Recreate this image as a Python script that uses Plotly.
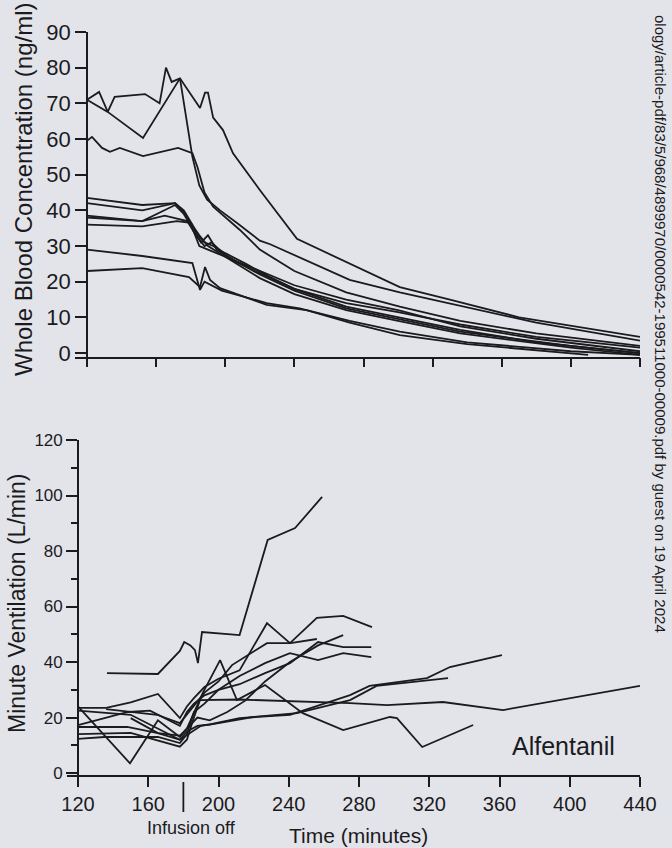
import plotly.graph_objects as go

# ---------------- Top panel: whole blood concentration (ng/ml) ----------------
conc_t_1 = [120, 132, 152.4, 173.8, 181, 185, 189.5, 197, 207, 220, 226, 272, 301, 324, 380, 440]
conc_v_1 = [71, 67.6, 60.3, 77, 55, 47, 43, 40, 36.4, 31.5, 30.5, 20.5, 17, 14.5, 8.5, 3.5]
conc_t_2 = [120, 127, 132, 136, 153.6, 162, 165.7, 169, 173.8, 185.4, 188.3, 190, 193, 198.7, 204.5, 212.6, 220, 241.5, 270, 301, 330, 370, 440]
conc_v_2 = [71, 73.2, 67.6, 71.8, 72.6, 70, 80, 76, 77, 68.7, 73, 73, 66, 62.5, 56, 50.5, 45.7, 32, 25.5, 18.5, 15, 10, 4.5]
conc_t_3 = [120, 122.9, 128.7, 133.3, 139, 152.4, 172.7, 181, 184, 188, 193, 200, 208.5, 220, 240, 270, 301, 336, 380, 440]
conc_v_3 = [59.5, 60.6, 57.5, 56.4, 57.5, 55.2, 57.5, 56, 52, 45, 41, 38, 34.5, 29, 23, 17, 13, 9, 5.5, 2]
conc_t_4 = [120, 152, 171, 176, 181, 184, 188, 193, 200, 212, 225, 240, 270, 300, 336, 380, 440]
conc_v_4 = [43.5, 41.5, 42, 40, 36, 33, 31, 30, 28, 25, 21.5, 18, 14, 11.5, 8, 4.5, 1.5]
conc_t_5 = [120, 152, 171, 177, 182, 186, 190, 195, 205, 220, 240, 270, 300, 336, 380, 440]
conc_v_5 = [42, 40, 42, 39, 34, 31, 33, 29, 26, 23, 19, 15, 12, 7.5, 4, 0.5]
conc_t_6 = [120, 152, 171, 176, 181, 185, 190, 200, 215, 240, 270, 300, 336, 380, 440]
conc_v_6 = [38.5, 37, 41.5, 39, 35, 30, 29, 27, 23.5, 18, 13, 10, 6.5, 3, 0]
conc_t_7 = [120, 152, 165, 178, 183, 188, 192, 200, 220, 240, 270, 300, 336, 400, 440]
conc_v_7 = [38, 37, 38.5, 37, 33, 30, 31, 27.5, 22, 17.5, 12.5, 9.5, 6, 2, 0]
conc_t_8 = [120, 152, 172, 180, 185, 190, 200, 220, 240, 270, 300, 336, 400, 440]
conc_v_8 = [36, 35.5, 37, 36.5, 33, 30, 27, 21, 16.5, 12, 9, 5.5, 1.5, -0.5]
conc_t_9 = [120, 152, 181, 185.4, 188, 192, 198, 224, 243, 272, 301, 340, 400, 440]
conc_v_9 = [29, 27.2, 25.2, 17.7, 20, 19, 17.5, 14, 12.5, 9, 6, 3, 0.5, -0.5]
conc_t_10 = [120, 152, 179, 185.4, 188.3, 191.2, 197, 224, 247, 272, 301, 340, 410]
conc_v_10 = [23, 23.8, 21.3, 18.5, 24.1, 20.5, 18.2, 13.5, 12, 8.5, 5, 2.5, -0.5]

conc_ticks = [0, 10, 20, 30, 40, 50, 60, 70, 80, 90]

# ---------------- Bottom panel: minute ventilation (L/min) ----------------
vent_t_1 = [136.5, 165.5, 178, 180.5, 184, 186.6, 188.3, 190.6, 212, 228, 243.6, 259]
vent_v_1 = [36, 35.7, 44, 47.2, 46, 44.3, 39.6, 50.8, 49.7, 84, 88.3, 99.5]
vent_t_2 = [120, 136, 150, 165.5, 178, 182, 186, 192, 200, 212, 227.6, 240.7, 256, 271, 287.4]
vent_v_2 = [23.5, 23.5, 25.5, 28.5, 19.8, 24, 27, 31, 34, 37, 54, 46.8, 55.9, 56.6, 52.6]
vent_t_3 = [136, 150, 165, 178, 182, 187, 192, 200, 207.7, 227.6, 241, 256]
vent_v_3 = [23, 22, 21, 18, 21, 25, 29, 33, 38.9, 46.8, 46.8, 48.3]
vent_t_4 = [120, 148.5, 161, 178, 182, 186, 192, 200, 212, 226.5, 240.7, 256.7, 271, 287]
vent_v_4 = [17.3, 22, 22.5, 17, 22, 25, 28, 30, 32, 36, 39.6, 47.2, 45.4, 45.4]
vent_t_5 = [120, 148, 165.5, 178, 182, 188, 195, 205, 215, 226.5, 240.7, 256.7, 271]
vent_v_5 = [16.6, 16.6, 14.4, 13.5, 16, 20, 19, 22, 26, 33, 40, 46, 49.7]
vent_t_6 = [120, 135, 165.5, 178, 182, 186, 192, 200, 212, 226.5, 240.7, 256.7, 271, 287]
vent_v_6 = [12.3, 13, 13, 10.8, 14, 22, 25, 30, 35, 39.6, 43.2, 40.7, 43.2, 41.8]
vent_t_7 = [120, 149.6, 165.5, 178, 182, 186, 191, 200.9, 210.5, 226.5, 248, 271, 297.6, 301.6, 316, 345]
vent_v_7 = [24, 3.5, 19, 13, 16, 22, 28.8, 40.7, 26.3, 31.7, 21.6, 15.5, 20.2, 19.8, 9.4, 17.3]
vent_t_8 = [120, 150, 178, 182, 186, 189.5, 212, 240, 274.9, 296, 327.8, 362, 440]
vent_v_8 = [14, 14.5, 9.5, 12, 20, 26.3, 26.5, 26, 25.2, 24.5, 25.6, 22.7, 31.4]
vent_t_9 = [150, 165.5, 178, 182, 188, 195, 212, 240.7, 274.9, 286, 318.7, 331.8, 361.4]
vent_v_9 = [19.8, 14.4, 12, 15, 17, 17.5, 19.8, 21, 28.1, 31.4, 34.2, 38.2, 42.5]
vent_t_10 = [120, 150, 178, 183, 190, 200, 219.6, 244.7, 274.9, 290, 330.7]
vent_v_10 = [22.5, 21, 12, 14, 17, 18, 20.2, 21.6, 26.3, 31.4, 34.2]

vent_ticks = [0, 20, 40, 60, 80, 100, 120]
time_ticks = [120, 160, 200, 240, 280, 320, 360, 400, 440]
infusion_off_time = 180

conc_series = [
    (conc_t_1, conc_v_1), (conc_t_2, conc_v_2), (conc_t_3, conc_v_3), (conc_t_4, conc_v_4),
    (conc_t_5, conc_v_5), (conc_t_6, conc_v_6), (conc_t_7, conc_v_7), (conc_t_8, conc_v_8),
    (conc_t_9, conc_v_9), (conc_t_10, conc_v_10),
]
vent_series = [
    (vent_t_1, vent_v_1), (vent_t_2, vent_v_2), (vent_t_3, vent_v_3), (vent_t_4, vent_v_4),
    (vent_t_5, vent_v_5), (vent_t_6, vent_v_6), (vent_t_7, vent_v_7), (vent_t_8, vent_v_8),
    (vent_t_9, vent_v_9), (vent_t_10, vent_v_10),
]

INK = "#1b1b1d"
BG = "#e3e4ea"
FONT = "Liberation Sans, Arial, Helvetica, sans-serif"
W, H = 672, 848
LW = 1.8

fig = go.Figure()
for t, v in conc_series:
    fig.add_trace(go.Scatter(x=t, y=v, mode="lines", xaxis="x", yaxis="y",
                             line=dict(color=INK, width=LW), showlegend=False, hoverinfo="skip"))
for t, v in vent_series:
    fig.add_trace(go.Scatter(x=t, y=v, mode="lines", xaxis="x2", yaxis="y2",
                             line=dict(color=INK, width=LW), showlegend=False, hoverinfo="skip"))

def px_x(p):
    return p / W

def px_y(p):
    return 1 - p / H

axis_common = dict(showline=True, linecolor=INK, linewidth=1.7, ticks="outside",
                   tickcolor=INK, tickwidth=1.7, showgrid=False, zeroline=False,
                   fixedrange=True)

fig.update_layout(
    width=W, height=H,
    margin=dict(l=0, r=0, t=0, b=0, autoexpand=False),
    paper_bgcolor=BG, plot_bgcolor="rgba(0,0,0,0)",
    font=dict(family=FONT, color=INK),
    xaxis=dict(axis_common, domain=[px_x(75), px_x(640)], range=[113.06, 440],
               anchor="y", tickvals=time_ticks, showticklabels=False, ticklen=9),
    yaxis=dict(axis_common, domain=[px_y(356.6), px_y(32)], range=[-1, 90],
               anchor="free", position=px_x(87), tickvals=conc_ticks, ticklen=11,
               tickfont=dict(size=22, family=FONT, color=INK)),
    xaxis2=dict(axis_common, domain=[px_x(67), px_x(640)], range=[113.74, 440],
                anchor="y2", tickvals=time_ticks, ticklen=10,
                tickfont=dict(size=20, family=FONT, color=INK)),
    yaxis2=dict(axis_common, domain=[px_y(775), px_y(440)], range=[-0.7, 120],
                anchor="free", position=px_x(78), tickvals=vent_ticks, ticklen=11,
                minor=dict(dtick=10, ticklen=6, tickwidth=1.7, tickcolor=INK, ticks="outside"),
                tickfont=dict(size=17, family=FONT, color=INK)),
)

# "Infusion off" marker below the time axis
fig.add_shape(type="line", xref="x2", yref="paper",
              x0=infusion_off_time, x1=infusion_off_time, y0=px_y(782), y1=px_y(812),
              line=dict(color=INK, width=1.8))

annotations = [
    dict(text="Whole Blood Concentration (ng/ml)", x=px_x(24), y=px_y(189), textangle=-90,
         font=dict(size=24)),
    dict(text="Minute Ventilation (L/min)", x=px_x(17), y=px_y(603), textangle=-90,
         font=dict(size=23)),
    dict(text="Time (minutes)", x=px_x(358), y=px_y(835), font=dict(size=21)),
    dict(text="Infusion off", x=px_x(191), y=px_y(828), font=dict(size=18)),
    dict(text="Alfentanil", x=px_x(563), y=px_y(746), font=dict(size=25)),
    dict(text="ology/article-pdf/83/5/968/4899970/0000542-199511000-00009.pdf by guest on 19 April 2024",
         x=px_x(661), y=px_y(324), textangle=90, font=dict(size=15)),
]
for a in annotations:
    a.update(xref="paper", yref="paper", showarrow=False, xanchor="center", yanchor="middle")
    a["font"].update(family=FONT, color=INK)
    fig.add_annotation(**a)

post = (
    "document.documentElement.style.margin='0';"
    "document.documentElement.style.overflow='hidden';"
    "document.body.style.margin='0';"
    "document.body.style.overflow='hidden';"
    "document.body.style.background='" + BG + "';"
    "var gd=document.getElementById('{plot_id}');"
    "gd.style.position='fixed';gd.style.left='0px';gd.style.top='0px';"
)
fig.write_html("out.html", config={"displayModeBar": False}, post_script=post)
